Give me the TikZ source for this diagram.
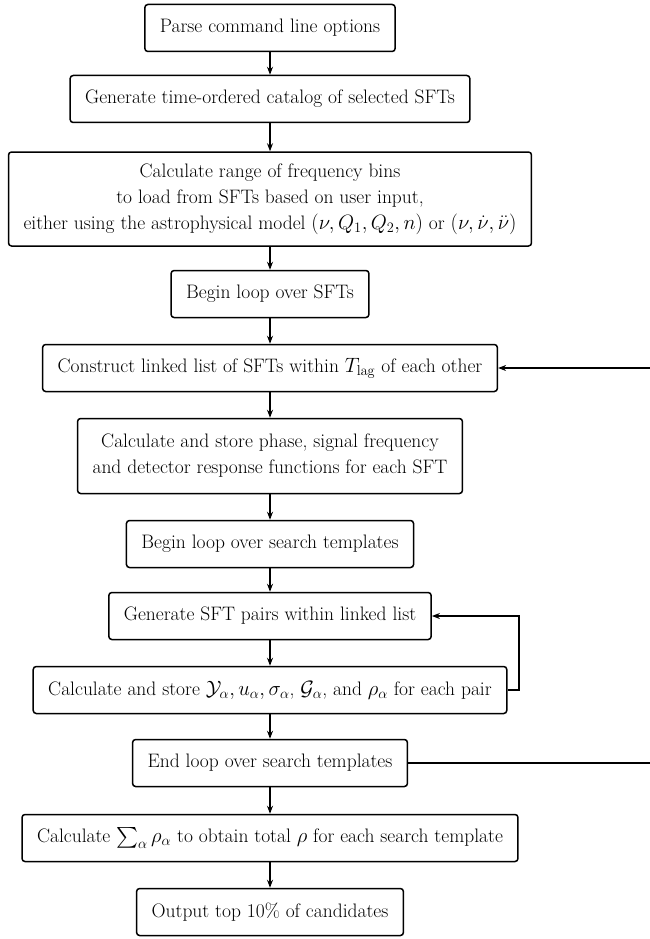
\documentclass[tikz,border=0pt]{standalone}
\usepackage{amsmath}
\usetikzlibrary{arrows.meta}
\begin{document}
\begin{tikzpicture}[x=1pt,y=-1pt,
  box/.style={draw, line width=1.5pt, rounded corners=3pt, align=center,
    inner xsep=15pt, inner ysep=4pt, minimum height=47pt,
    font=\fontsize{19.5}{26}\selectfont},
  arr/.style={-{Stealth[length=8pt,width=6pt]}, line width=1.2pt},
  lnk/.style={line width=1.2pt}]
\useasboundingbox (0,0) rectangle (649,939);
\node[box] (n1) at (270,28) {Parse command line options};
\node[box] (n2) at (270,99) {Generate time-ordered catalog of selected SFTs};
\node[box, minimum height=94pt] (n3) at (270,199) {Calculate range of frequency bins\\ to load from SFTs based on user input,\\ either using the astrophysical model $(\nu, Q_1, Q_2, n)$ or $(\nu,\dot{\nu},\ddot{\nu})$};
\node[box] (n4) at (270,294) {Begin loop over SFTs};
\node[box] (n5) at (270,368) {Construct linked list of SFTs within $T_{\mathrm{lag}}$ of each other};
\node[box, minimum height=75pt] (n6) at (270,456) {Calculate and store phase, signal frequency\\ and detector response functions for each SFT};
\node[box] (n7) at (270,544) {Begin loop over search templates};
\node[box] (n8) at (270,616) {Generate SFT pairs within linked list};
\node[box] (n9) at (270,690) {Calculate and store $\mathcal{Y}_\alpha, u_\alpha, \sigma_\alpha$, $\mathcal{G}_\alpha$, and $\rho_\alpha$ for each pair};
\node[box] (n10) at (270,763) {End loop over search templates};
\node[box] (n11) at (270,838) {Calculate $\sum_\alpha \rho_\alpha$ to obtain total $\rho$ for each search template};
\node[box] (n12) at (270,912) {Output top 10\% of candidates};
\foreach \a/\b in {n1/n2,n2/n3,n3/n4,n4/n5,n5/n6,n6/n7,n7/n8,n8/n9,n9/n10,n10/n11,n11/n12}
  \draw[arr] (\a) -- (\b);
\coordinate (c1) at (519,690);
\coordinate (c2) at (519,616);
\draw[arr] (n9.east) -- (c1) -- (c2) -- (n8.east);
\coordinate (d1) at (660,763);
\coordinate (d2) at (660,368);
\draw[arr] (n10.east) -- (d1) -- (d2) -- (n5.east);
\end{tikzpicture}
\end{document}
